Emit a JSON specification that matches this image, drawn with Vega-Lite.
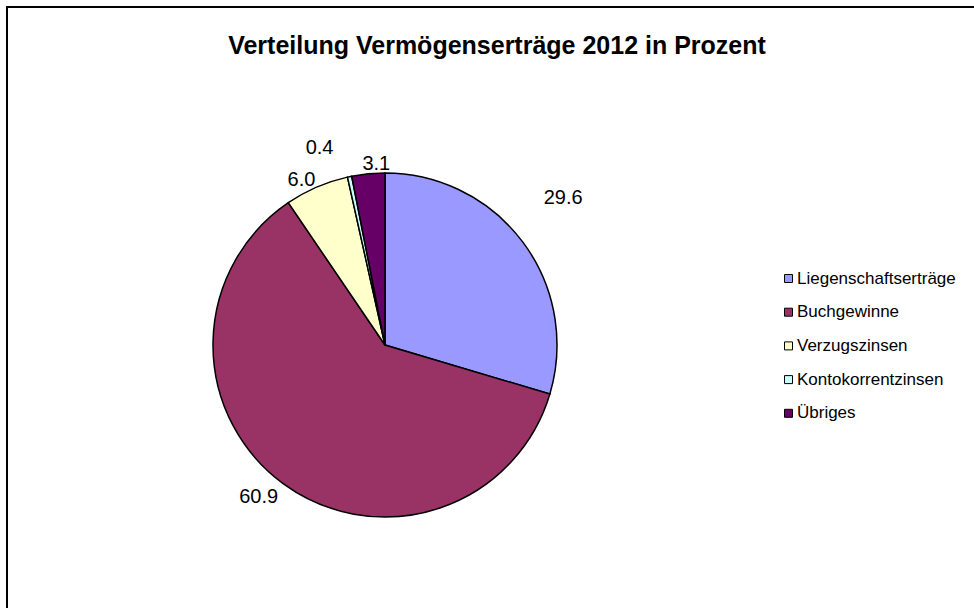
{
  "$schema": "https://vega.github.io/schema/vega-lite/v6.json",
  "autosize": "none",
  "width": 980,
  "height": 620,
  "padding": {"left": 7, "top": 7, "right": 0, "bottom": 0},
  "background": "white",
  "view": {"stroke": "black", "strokeWidth": 2, "fill": "white"},
  "config": {
    "font": "Liberation Sans"
  },
  "title": {
    "text": "Verteilung Vermögenserträge 2012 in Prozent",
    "font": "Liberation Sans",
    "fontSize": 25,
    "fontWeight": "bold",
    "color": "black",
    "anchor": "middle",
    "offset": 0,
    "baseline": "alphabetic",
    "dy": 72
  },
  "data": {
    "values": [
      {"Nr": 1, "Kategorie": "Liegenschaftserträge", "Anteil": 29.6, "Label": "29.6"},
      {"Nr": 2, "Kategorie": "Buchgewinne", "Anteil": 60.9, "Label": "60.9"},
      {"Nr": 3, "Kategorie": "Verzugszinsen", "Anteil": 6.0, "Label": "6.0"},
      {"Nr": 4, "Kategorie": "Kontokorrentzinsen", "Anteil": 0.4, "Label": "0.4"},
      {"Nr": 5, "Kategorie": "Übriges", "Anteil": 3.1, "Label": "3.1"}
    ]
  },
  "encoding": {
    "theta": {"field": "Anteil", "type": "quantitative", "stack": true},
    "order": {"field": "Nr", "type": "quantitative", "sort": "ascending"}
  },
  "layer": [
    {
      "mark": {"type": "arc", "x": 378, "y": 338, "outerRadius": 172, "stroke": "black", "strokeWidth": 1.5},
      "encoding": {
        "color": {
          "field": "Kategorie",
          "type": "nominal",
          "sort": ["Liegenschaftserträge", "Buchgewinne", "Verzugszinsen", "Kontokorrentzinsen", "Übriges"],
          "scale": {
            "domain": ["Liegenschaftserträge", "Buchgewinne", "Verzugszinsen", "Kontokorrentzinsen", "Übriges"],
            "range": ["#9999FF", "#993366", "#FFFFCC", "#CCFFFF", "#660066"]
          },
          "legend": {
            "title": null,
            "orient": "none",
            "legendX": 773,
            "legendY": 263,
            "symbolType": "square",
            "symbolSize": 64,
            "symbolStrokeColor": "black",
            "symbolStrokeWidth": 1,
            "labelFont": "Liberation Sans",
            "labelFontSize": 17,
            "labelColor": "black",
            "labelOffset": 0,
            "rowPadding": 15.7,
            "labelLimit": 300
          }
        }
      }
    },
    {
      "mark": {
        "type": "text",
        "x": 378,
        "y": 338,
        "radius": {"expr": "datum.Label == '29.6' ? 231 : datum.Label == '60.9' ? 197 : datum.Label == '6.0' ? 185 : datum.Label == '0.4' ? 206 : 182"},
        "dx": {"expr": "datum.Label == '0.4' ? -23 : datum.Label == '3.1' ? 9 : datum.Label == '29.6' ? -7 : datum.Label == '60.9' ? -10 : datum.Label == '6.0' ? -10 : 0"},
        "dy": {"expr": "datum.Label == '0.4' ? 5 : datum.Label == '29.6' ? -9 : datum.Label == '60.9' ? -7 : datum.Label == '6.0' ? 5 : 0"},
        "font": "Liberation Sans",
        "fontSize": 20,
        "color": "black"
      },
      "encoding": {
        "text": {"field": "Label", "type": "nominal"}
      }
    }
  ]
}
